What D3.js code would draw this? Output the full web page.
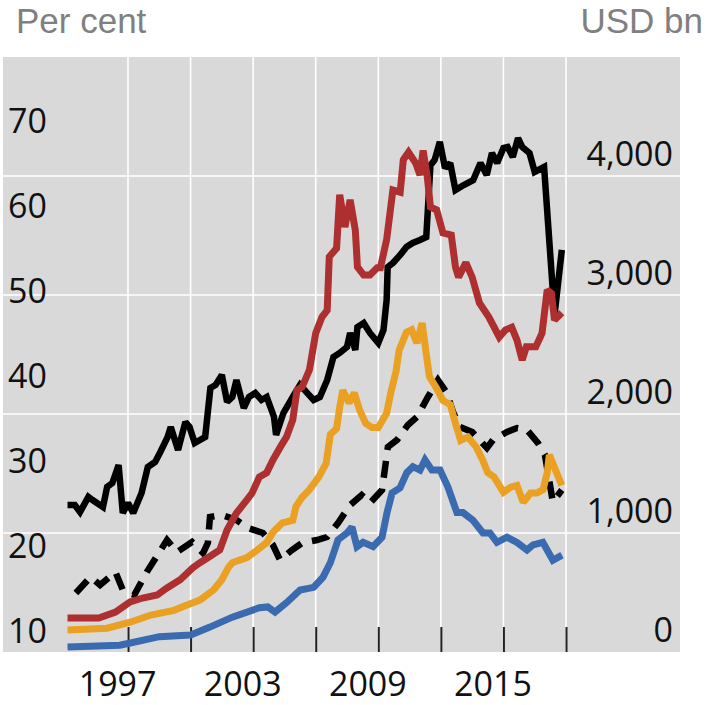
<!DOCTYPE html>
<html>
<head>
<meta charset="utf-8">
<script src="https://cdnjs.cloudflare.com/ajax/libs/d3/7.8.5/d3.min.js"></script>
<style>
body { margin: 0; background: #fff; }
.tick-label { font-family: "Open Sans", sans-serif; font-size: 34px; fill: #111; }
.unit { font-family: "Liberation Sans", Arial, sans-serif; font-size: 35px; fill: #808080; }
</style>
</head>
<body>
<script>
// x labels sit mid-year, ticks/grid at year boundaries
var yearLabels = [1997, 2003, 2009, 2015];
var gridYears = [1998, 2001, 2004, 2007, 2010, 2013, 2016, 2019];
var leftTicks = [10, 20, 30, 40, 50, 60, 70];
var rightTicks = [0, 1000, 2000, 3000, 4000];

// per cent (left axis)
var red = [[1995.1,14.0],[1996.6,14.0],[1997.4,14.7],[1998.1,15.9],[1998.7,16.35],[1999.4,16.7],[1999.85,17.5],
  [2000.5,18.5],[2001.1,19.9],[2001.45,20.5],[2001.9,21.2],[2002.4,22.0],[2002.75,24.35],[2003.2,26.35],
  [2003.7,27.9],[2003.95,28.7],[2004.3,30.6],[2004.65,31.1],[2004.95,32.6],[2005.3,34.1],[2005.6,35.3],
  [2005.9,37.3],[2006.1,40.8],[2006.35,41.2],[2006.7,43.2],[2007.0,47.5],[2007.3,49.4],[2007.55,50.2],
  [2007.65,56.5],[2008.0,57.5],[2008.15,63.8],[2008.4,60.0],[2008.65,63.2],[2008.9,59.6],[2009.0,55.3],
  [2009.3,54.35],[2009.6,54.35],[2009.95,55.2],[2010.1,55.2],[2010.4,58.5],[2010.7,64.35],[2011.05,64.1],
  [2011.2,67.9],[2011.45,68.8],[2011.8,67.5],[2012.0,66.1],[2012.15,69.0],[2012.35,65.9],[2012.5,62.35],
  [2012.8,62.0],[2013.1,59.3],[2013.5,59.06],[2013.7,55.3],[2013.85,54.1],[2014.2,55.8],[2014.5,54.1],
  [2014.85,51.06],[2015.3,49.4],[2015.8,47.06],[2016.1,47.9],[2016.4,48.2],[2016.65,46.7],[2016.9,44.35],
  [2017.1,45.9],[2017.55,45.9],[2017.85,47.5],[2018.1,52.6],[2018.3,52.2],[2018.45,49.06],[2018.8,49.9]];

var orange = [[1995.1,12.6],[1997.0,12.8],[1998.1,13.5],[1999.1,14.35],[2000.2,14.9],[2000.8,15.5],[2001.45,16.1],
  [2002.1,17.3],[2002.5,18.5],[2002.8,19.9],[2003.0,20.5],[2003.7,21.1],[2004.2,22.0],[2004.66,22.9],
  [2004.95,24.1],[2005.4,25.2],[2005.9,25.5],[2006.05,27.1],[2006.35,28.2],[2006.7,29.1],[2007.15,30.6],
  [2007.5,32.2],[2007.7,35.6],[2008.0,36.3],[2008.15,38.8],[2008.3,40.8],[2008.6,39.3],[2008.85,40.5],
  [2009.1,38.5],[2009.4,36.9],[2009.7,36.4],[2010.0,36.4],[2010.4,38.1],[2010.6,40.5],[2010.85,43.0],
  [2011.0,45.5],[2011.35,47.6],[2011.6,47.9],[2011.85,46.35],[2012.1,48.7],[2012.45,42.4],[2012.8,41.0],
  [2013.1,39.6],[2013.45,39.1],[2013.7,36.9],[2013.95,34.9],[2014.3,35.3],[2014.7,34.1],[2015.0,32.6],
  [2015.25,31.1],[2015.55,30.6],[2016.0,28.8],[2016.35,29.4],[2016.65,29.6],[2016.95,27.6],[2017.3,28.7],
  [2017.6,28.7],[2017.9,29.1],[2018.1,31.1],[2018.2,33.2],[2018.5,31.4],[2018.8,29.6]];

var blue = [[1995.1,10.6],[1997.6,10.8],[1998.0,11.0],[1999.5,11.8],[2001.0,12.0],[2001.9,12.9],[2003.0,14.1],
  [2004.3,15.2],[2004.7,15.3],[2005.05,14.7],[2005.6,15.8],[2006.25,17.3],[2006.9,17.6],[2007.35,18.8],
  [2007.7,20.5],[2008.07,23.2],[2008.5,24.0],[2008.74,24.7],[2008.98,22.4],[2009.27,22.9],[2009.75,22.4],
  [2010.18,23.5],[2010.42,26.4],[2010.66,28.7],[2011.04,29.3],[2011.37,31.1],[2011.66,31.8],[2012.0,31.4],
  [2012.24,32.6],[2012.57,31.4],[2012.96,31.4],[2013.34,29.4],[2013.77,26.4],[2014.06,26.4],[2014.54,25.5],
  [2015.02,24.0],[2015.35,24.0],[2015.69,22.9],[2016.17,23.5],[2016.65,22.9],[2017.13,22.0],[2017.42,22.6],
  [2017.89,22.9],[2018.37,20.8],[2018.81,21.4]];

// USD bn (right axis)
var blackSolid = [[1995.1,1235],[1995.45,1235],[1995.7,1176],[1996.1,1303],[1996.3,1277],[1996.8,1218],[1997.0,1387],
  [1997.25,1420],[1997.55,1571],[1997.75,1168],[1998.0,1252],[1998.25,1168],[1998.65,1336],[1998.95,1555],
  [1999.3,1597],[1999.55,1681],[1999.9,1807],[2000.05,1891],[2000.4,1697],[2000.75,1933],[2000.95,1891],
  [2001.2,1756],[2001.7,1807],[2001.95,2218],[2002.2,2244],[2002.5,2328],[2002.75,2101],[2003.0,2143],
  [2003.2,2286],[2003.55,2050],[2003.8,2143],[2004.1,2176],[2004.4,2118],[2004.65,2143],[2005.0,1975],
  [2005.1,1824],[2005.45,2008],[2005.9,2143],[2006.25,2244],[2006.6,2176],[2006.9,2118],[2007.2,2143],
  [2007.55,2286],[2007.85,2479],[2008.15,2513],[2008.5,2563],[2008.65,2681],[2008.9,2538],[2009.0,2731],
  [2009.3,2765],[2009.6,2681],[2010.0,2597],[2010.25,2706],[2010.4,2958],[2010.45,3235],[2010.7,3269],
  [2011.05,3336],[2011.35,3403],[2011.65,3437],[2012.0,3462],[2012.3,3487],[2012.5,4090],[2012.7,4134],
  [2012.95,4286],[2013.2,4067],[2013.45,4109],[2013.7,3882],[2014.1,3924],[2014.55,3966],[2014.9,4109],
  [2015.2,4008],[2015.45,4193],[2015.7,4109],[2016.0,4235],[2016.2,4244],[2016.45,4160],[2016.7,4319],
  [2016.9,4244],[2017.25,4193],[2017.5,4034],[2017.95,4076],[2018.45,2830],[2018.8,3380]];

var blackDashed = [[1995.5,496],[1996.2,630],[1996.66,563],[1997.4,672],[1997.75,521],[1998.3,479],[1998.9,672],
  [1999.87,941],[2000.35,840],[2001.07,924],[2001.6,832],[2001.83,916],[2001.93,1134],[2002.5,1151],
  [2003.2,1109],[2003.75,1042],[2004.47,1000],[2004.95,899],[2005.29,773],[2005.86,857],[2006.34,916],
  [2007.06,941],[2007.54,966],[2008.07,1084],[2008.65,1235],[2009.2,1319],[2009.6,1252],[2010.18,1361],
  [2010.46,1723],[2010.9,1782],[2011.42,1908],[2011.85,1975],[2012.38,2143],[2012.86,2286],[2013.29,2176],
  [2013.58,2017],[2013.92,1891],[2014.5,1849],[2015.21,1714],[2015.5,1782],[2016.17,1849],[2016.65,1882],
  [2017.13,1866],[2017.66,1756],[2017.99,1655],[2018.37,1261],[2018.8,1361]];

var width = 705, height = 705;
var plot = {left: 3, right: 680, top: 57, bottom: 652};

var x = d3.scaleLinear().domain([1998, 2019]).range([128, 566]);
var yLeft = d3.scaleLinear().domain([10, 80]).range([plot.bottom, plot.top]);
var yRight = d3.scaleLinear().domain([0, 5000]).range([plot.bottom, plot.top]);

var svg = d3.select("body").append("svg")
  .attr("width", width)
  .attr("height", height);

svg.append("rect")
  .attr("x", plot.left)
  .attr("y", plot.top)
  .attr("width", plot.right - plot.left)
  .attr("height", plot.bottom - plot.top)
  .attr("fill", "#d9d9d9");

// grid
svg.selectAll(".vgrid")
  .data(gridYears)
  .enter().append("line")
  .attr("class", "vgrid")
  .attr("x1", function(d) { return x(d); })
  .attr("x2", function(d) { return x(d); })
  .attr("y1", plot.top)
  .attr("y2", plot.bottom)
  .attr("stroke", "#fff")
  .attr("stroke-width", 1.6);

svg.selectAll(".hgrid")
  .data(rightTicks.filter(function(d) { return d > 0; }))
  .enter().append("line")
  .attr("class", "hgrid")
  .attr("x1", plot.left)
  .attr("x2", plot.right)
  .attr("y1", function(d) { return yRight(d); })
  .attr("y2", function(d) { return yRight(d); })
  .attr("stroke", "#fff")
  .attr("stroke-width", 1.6);

// small ticks at the bottom
var xTicks = d3.axisBottom(x).tickValues(gridYears).tickSize(-25).tickFormat("");
var gx = svg.append("g")
  .attr("transform", "translate(0," + plot.bottom + ")")
  .call(xTicks);
gx.select(".domain").remove();
gx.selectAll("line").attr("stroke", "#222").attr("stroke-width", 2);

// labels
svg.selectAll(".xlab")
  .data(yearLabels)
  .enter().append("text")
  .attr("class", "tick-label")
  .attr("x", function(d) { return x(d + 0.5); })
  .attr("y", 696)
  .attr("text-anchor", "middle")
  .text(function(d) { return d; });

svg.selectAll(".ylab")
  .data(leftTicks)
  .enter().append("text")
  .attr("class", "tick-label")
  .attr("x", 8)
  .attr("y", function(d) { return yLeft(d) - 9; })
  .text(function(d) { return d; });

svg.selectAll(".rlab")
  .data(rightTicks)
  .enter().append("text")
  .attr("class", "tick-label")
  .attr("x", 673)
  .attr("y", function(d) { return yRight(d) - 10; })
  .attr("text-anchor", "end")
  .text(function(d) { return d3.format(",")(d); });

svg.append("text").attr("class", "unit").attr("x", 16).attr("y", 33).text("Per cent");
svg.append("text").attr("class", "unit").attr("x", 703).attr("y", 33)
  .attr("text-anchor", "end").text("USD bn");

// lines
function drawLine(data, yScale, color, w, dash) {
  var line = d3.line()
    .x(function(d) { return x(d[0]); })
    .y(function(d) { return yScale(d[1]); });
  svg.append("path")
    .datum(data)
    .attr("d", line)
    .attr("fill", "none")
    .attr("stroke", color)
    .attr("stroke-width", w)
    .attr("stroke-linejoin", "miter")
    .attr("stroke-miterlimit", 2)
    .attr("stroke-dasharray", dash || null);
}

drawLine(blackDashed, yRight, "#000", 6.5, "17,11");
drawLine(blackSolid, yRight, "#000", 6.5);
drawLine(blue, yLeft, "#3a6bb1", 7);
drawLine(orange, yLeft, "#eaa022", 7);
drawLine(red, yLeft, "#ad2f2f", 7);
</script>
</body>
</html>
